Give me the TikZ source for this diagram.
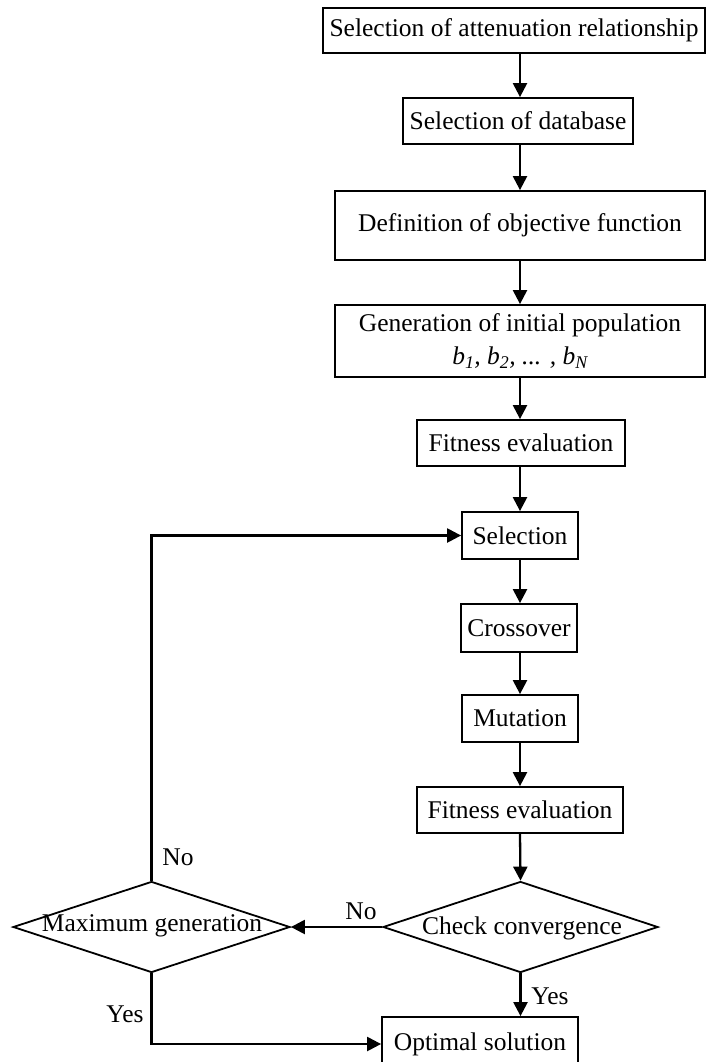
\documentclass[tikz,border=0pt]{standalone}
\usepackage{fontspec}
\setmainfont{Liberation Serif}
\usetikzlibrary{arrows.meta,shapes.geometric}
\tikzset{
  box/.style={draw, line width=1.8pt, rectangle, inner sep=0pt, align=center,
    font=\fontsize{25.5}{33}\selectfont},
  dec/.style={draw, line width=1.8pt, diamond, inner sep=0pt, aspect=3,
    font=\fontsize{25.5}{33}\selectfont},
  flow/.style={line width=2.3pt, -{Triangle[length=14pt,width=14pt]}},
  lab/.style={inner sep=0pt, font=\fontsize{25.5}{33}\selectfont},
}
\begin{document}
\begin{tikzpicture}[x=1pt,y=-1pt]
\useasboundingbox (0,0) rectangle (706,1062);
\node[box, minimum width=382pt, minimum height=45pt] (att) at (514,30.5) {Selection of attenuation relationship};
\node[box, minimum width=230pt, minimum height=46pt] (db) at (518,121) {Selection of database};
\node[box, minimum width=370pt, minimum height=69pt] (obj) at (520,225.5) {Definition of objective function};
\node[box, minimum width=370pt, minimum height=72pt] (gen) at (520,341) {Generation of initial population\\ \textit{b\textsubscript{1}, b\textsubscript{2}, ... , b\textsubscript{N}}};
\node[box, minimum width=208pt, minimum height=46pt] (fit1) at (521,443) {Fitness evaluation};
\node[box, minimum width=116pt, minimum height=47pt] (sel) at (520,535.5) {Selection};
\node[box, minimum width=116pt, minimum height=48pt] (cro) at (519,628) {Crossover};
\node[box, minimum width=116pt, minimum height=47pt] (mut) at (520,718.5) {Mutation};
\node[box, minimum width=206pt, minimum height=46pt] (fit2) at (520,810) {Fitness evaluation};
\node[dec, minimum width=275pt, minimum height=91pt] (chk) at (520.5,927) {};
\node[lab] at (522,928) {Check convergence};
\node[dec, minimum width=277pt, minimum height=91pt] (max) at (151.5,927) {};
\node[lab] at (152,926) {Maximum generation};
\node[box, minimum width=196pt, minimum height=54pt] (opt) at (480,1044) {Optimal solution};

\coordinate (c1) at (520,53);
\draw[flow] (c1) -- (db.north -| c1);
\draw[flow] (db.south -| 520,0) -- (obj.north);
\draw[flow] (obj.south) -- (gen.north);
\draw[flow] (gen.south) -- (fit1.north -| 520,0);
\draw[flow] (fit1.south -| 520,0) -- (sel.north);
\draw[flow] (sel.south) -- (cro.north -| 520,0);
\draw[flow] (cro.south -| 520,0) -- (mut.north);
\draw[flow] (mut.south) -- (fit2.north);
\draw[flow] (fit2.south) -- (chk.north);
\draw[flow] (chk.south) -- (opt.north -| chk.south);
\draw[flow] (chk.west) -- (max.east);
\draw[flow] (max.north) |- (sel.west);
\draw[flow] (max.south) |- (opt.west);

\node[lab] at (178,857) {No};
\node[lab] at (361,911) {No};
\node[lab] at (125,1014) {Yes};
\node[lab] at (550,996) {Yes};
\end{tikzpicture}
\end{document}
